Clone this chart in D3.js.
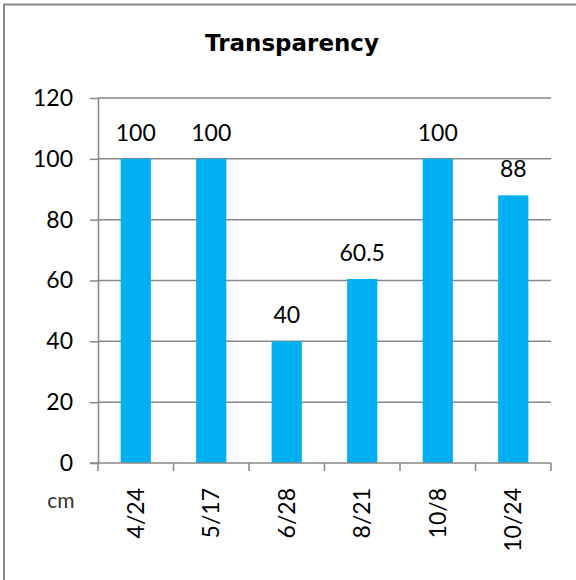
<!DOCTYPE html>
<html><head><meta charset="utf-8">
<script src="https://cdn.jsdelivr.net/npm/d3@7"></script>
<style>body{margin:0;background:#fff;}svg{display:block;}</style>
</head><body>
<script>
const categories = ["4/24","5/17","6/28","8/21","10/8","10/24"];
const values = [100,100,40,60.5,100,88];
const yTicks = [0,20,40,60,80,100,120];
const title = "Transparency";
const unitLabel = "cm";

const W = 576, H = 580;
const font = "Lato, 'Open Sans', sans-serif";
const svg = d3.select("body").append("svg").attr("width",W).attr("height",H);
svg.append("rect").attr("width",W).attr("height",H).attr("fill","#fff");
// outer border (left and top visible)
svg.append("path").attr("d","M4,580 V4.5 H576").attr("fill","none").attr("stroke","#878787").attr("stroke-width",2);

const x0=98, x1=551, y0=463, y1=98;
const x = d3.scaleBand().domain(categories).range([x0,x1]).paddingInner(0.6).paddingOuter(0.3);
const xb = d3.scaleBand().domain(categories).range([x0,x1]);
const y = d3.scaleLinear().domain([0,120]).range([y0,y1]);

svg.append("text").attr("x",292).attr("y",51).attr("text-anchor","middle")
  .attr("font-family","'DejaVu Sans', sans-serif").attr("font-weight","bold").attr("font-size",23).attr("fill","#000").text(title);

// gridlines
svg.append("g").selectAll("line").data(yTicks.filter(d=>d>0)).join("line")
  .attr("x1",x0).attr("x2",x1).attr("y1",d=>y(d)).attr("y2",d=>y(d))
  .attr("stroke","#878787").attr("stroke-width",1.5);

// bars
svg.append("g").selectAll("rect").data(values).join("rect")
  .attr("x",(d,i)=>x(categories[i])).attr("width",x.bandwidth())
  .attr("y",d=>y(d)).attr("height",d=>y0-y(d)).attr("fill","#00B0F0");

// y axis
const yAxis = d3.axisLeft(y).tickValues(yTicks).tickSize(8).tickSizeOuter(0).tickPadding(17);
const gy = svg.append("g").attr("transform",`translate(${x0},0)`).call(yAxis);
gy.select(".domain").attr("stroke","#878787").attr("stroke-width",1.5);
gy.selectAll(".tick line").attr("stroke","#878787").attr("stroke-width",1.5);
gy.selectAll(".tick text").attr("font-family",font).attr("font-size",23).attr("fill","#000");

// x axis
const gx = svg.append("g").attr("transform",`translate(0,${y0})`);
gx.append("line").attr("x1",x0-8).attr("x2",x1).attr("y1",0).attr("y2",0).attr("stroke","#878787").attr("stroke-width",1.5);
const bounds = categories.map(c=>xb(c)).concat([x1]);
gx.selectAll("line.t").data(bounds).join("line").attr("class","t")
  .attr("x1",d=>d).attr("x2",d=>d).attr("y1",0).attr("y2",8).attr("stroke","#878787").attr("stroke-width",1.5);
gx.selectAll("text").data(categories).join("text")
  .attr("transform",d=>`translate(${xb(d)+xb.bandwidth()/2+8},25) rotate(-90)`)
  .attr("text-anchor","end").attr("font-family",font).attr("font-size",23).attr("fill","#000").text(d=>d);

// value labels
svg.append("g").selectAll("text").data(values).join("text")
  .attr("x",(d,i)=>x(categories[i])+x.bandwidth()/2).attr("y",d=>y(d)-18)
  .attr("text-anchor","middle").attr("font-family",font).attr("font-size",23).attr("fill","#000")
  .text(d=>d);

svg.append("text").attr("x",61).attr("y",508).attr("text-anchor","middle")
  .attr("font-family",font).attr("font-size",21).attr("fill","#333").text(unitLabel);
</script>
</body></html>
